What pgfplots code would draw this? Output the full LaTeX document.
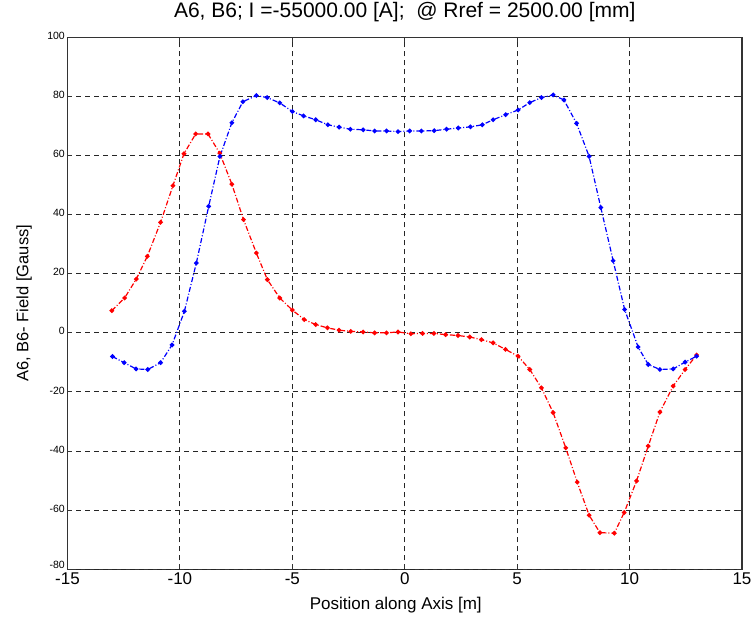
\documentclass[border=0pt]{standalone}
\usepackage{pgfplots}
\pgfplotsset{compat=1.18}
\usepackage{fontspec}
\setmainfont{Liberation Sans}
\pgfplotstableread{
x y
-13.0 -8.0
-12.48 -10.1
-11.95 -12.2
-11.43 -12.4
-10.86 -10.1
-10.35 -4.1
-9.8 7.3
-9.27 23.6
-8.72 42.8
-8.22 59.7
-7.69 71.1
-7.2 78.2
-6.6 80.3
-6.12 79.6
-5.56 77.8
-5.0 74.9
-4.5 73.4
-3.96 72.1
-3.42 70.4
-2.92 69.6
-2.42 68.9
-1.85 68.7
-1.34 68.3
-0.81 68.3
-0.3 68.1
0.22 68.3
0.74 68.3
1.31 68.4
1.86 68.9
2.38 69.3
2.92 69.7
3.45 70.4
3.93 72.1
4.49 73.8
5.04 75.4
5.56 77.9
6.08 79.6
6.6 80.5
7.08 78.8
7.64 70.9
8.2 59.7
8.72 42.4
9.27 24.4
9.78 7.9
10.38 -4.8
10.83 -10.7
11.35 -12.4
11.94 -12.2
12.47 -9.9
12.98 -7.9
}\blue
\pgfplotstableread{
x y
-13.03 7.5
-12.46 11.8
-11.94 18.2
-11.45 25.9
-10.86 37.4
-10.31 49.8
-9.82 60.6
-9.3 67.3
-8.75 67.3
-8.23 60.8
-7.69 50.3
-7.17 38.3
-6.6 27.0
-6.11 18.0
-5.56 11.8
-5.0 7.7
-4.47 4.5
-3.96 2.8
-3.44 1.7
-2.92 0.9
-2.4 0.5
-1.85 0.3
-1.34 0.0
-0.81 0.0
-0.3 0.3
0.27 -0.3
0.79 -0.2
1.3 -0.2
1.82 -0.6
2.37 -0.9
2.89 -1.4
3.41 -2.3
3.93 -3.4
4.48 -5.6
5.04 -7.9
5.56 -12.4
6.08 -18.6
6.6 -27.0
7.16 -38.9
7.67 -50.5
8.2 -61.7
8.68 -67.6
9.32 -67.8
9.76 -60.8
10.31 -50.1
10.83 -38.3
11.35 -26.8
11.94 -18.0
12.47 -12.4
12.98 -7.5
}\red
\begin{document}
\begin{tikzpicture}
\begin{axis}[
  at={(0pt,0pt)}, anchor=south west,
  width=674.5pt, height=532pt, scale only axis,
  xmin=-15, xmax=15, ymin=-80, ymax=100,
  xtick={-15,-10,...,15}, ytick={-60,-40,...,100},
  extra y ticks={-80},
  extra y tick style={yticklabel style={yshift=3pt}},
  /pgf/number format/assume math mode=true,
  axis line style={draw=black!80, line width=1.3pt},
  tick align=inside, major tick length=5pt,
  tick style={black!80, line width=1pt},
  grid=major,
  major grid style={black!85, line width=1pt, dash pattern=on 5pt off 4pt},
  xticklabel style={font=\fontsize{17}{17}\selectfont, inner sep=0.5pt, yshift=-3pt},
  yticklabel style={font=\fontsize{10.5}{10.5}\selectfont, inner sep=0.5pt, xshift=-2pt, yshift=1.5pt},
  title={A6, B6; I =-55000.00 [A];\ \ @ Rref = 2500.00 [mm]},
  title style={font=\fontsize{21}{21}\selectfont, at={(axis description cs:0.5,1)}, anchor=center, yshift=19.3pt},
  xlabel={Position along Axis [m]},
  xlabel style={font=\fontsize{17}{17}\selectfont, at={(axis description cs:0.5,0)}, anchor=center, yshift=-35.7pt, xshift=-9pt},
  ylabel={A6, B6- Field [Gauss]},
  ylabel style={font=\fontsize{16.5}{16.5}\selectfont, at={([xshift=-43.5pt]axis description cs:0,0.5)}, anchor=center},
]
\addplot[red, line width=1.2pt, dash pattern=on 5pt off 2pt on 1pt off 2pt, mark=*, mark size=1.7pt, mark options={solid}] table[x=x,y=y] {\red};
\addplot[blue, line width=1.2pt, dash pattern=on 5pt off 2pt on 1pt off 2pt, mark=*, mark size=1.7pt, mark options={solid}] table[x=x,y=y] {\blue};
\end{axis}
\pgfresetboundingbox
\path (-67.5pt,-48.7pt) rectangle (688.5pt,569.3pt);
\end{tikzpicture}
\end{document}
